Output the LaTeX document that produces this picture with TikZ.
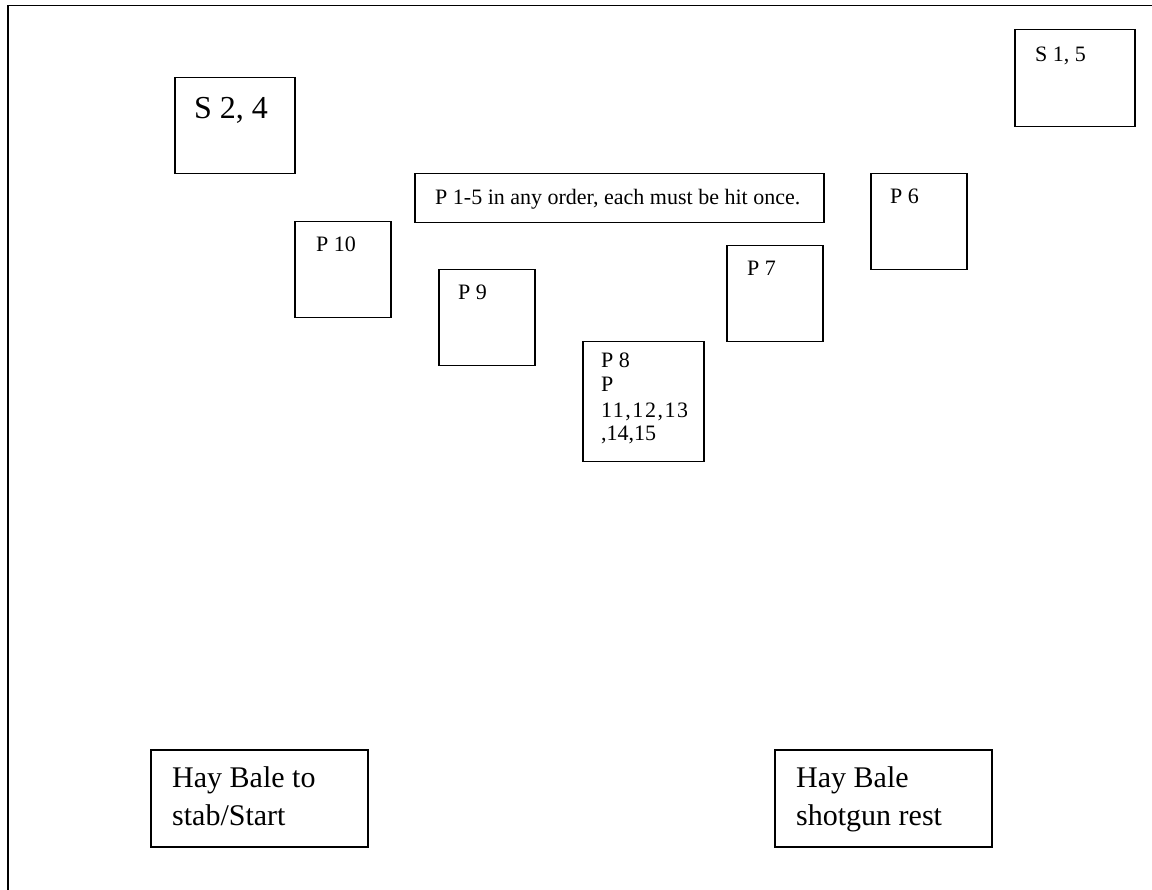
\documentclass[tikz,border=0pt]{standalone}
\usepackage{fontspec}
\setmainfont{Liberation Serif}
\begin{document}
\begin{tikzpicture}[x=1pt,y=-1pt,
  box/.style={draw, line width=1.5pt, rectangle, inner sep=0pt, anchor=north west},
  sm/.style={anchor=base west, inner sep=0pt, font=\fontsize{22}{24}\selectfont},
  big/.style={anchor=base west, inner sep=0pt, font=\fontsize{30}{37}\selectfont},
  huge/.style={anchor=base west, inner sep=0pt, font=\fontsize{32}{38}\selectfont},
]
\useasboundingbox (0,0) rectangle (1152,890);
\fill[white] (0,0) rectangle (1152,890);
\node[box, minimum width=1170pt, minimum height=910pt] (frame) at (7,5) {};

\node[box, minimum width=120pt, minimum height=96pt] (s24) at (174,77) {};
\node[huge] (s24t) at (194,119) {S 2, 4};

\node[box, minimum width=120pt, minimum height=97pt] (s15) at (1014,29) {};
\node[sm] (s15t) at (1035,62) {S 1, 5};

\node[box, minimum width=409pt, minimum height=49pt] (p15) at (414,173) {};
\node[sm] (p15t) at (435,205) {P 1-5 in any order, each must be hit once.};

\node[box, minimum width=96pt, minimum height=96pt] (p10) at (294,221) {};
\node[sm] (p10t) at (316,252) {P 10};

\node[box, minimum width=96pt, minimum height=96pt] (p9) at (438,269) {};
\node[sm] (p9t) at (458,300) {P 9};

\node[box, minimum width=96pt, minimum height=96pt] (p7) at (726,245) {};
\node[sm] (p7t) at (747,276) {P 7};

\node[box, minimum width=96pt, minimum height=96pt] (p6) at (870,173) {};
\node[sm] (p6t) at (890,204) {P 6};

\node[box, minimum width=121pt, minimum height=120pt] (p8) at (582,341) {};
\node[sm] (p8a) at (601,368) {P 8};
\node[sm] (p8b) at (601,392) {P};
\begin{scope}
  \clip (582,341) rectangle (686,461);
  \node[sm] (p8c) at (601,418) {\addfontfeature{LetterSpace=7}11,12,13};
\end{scope}
\node[sm] (p8d) at (601,441) {,14,15};

\node[box, minimum width=217pt, minimum height=97pt] (hay1) at (150,749) {};
\node[big] (hay1a) at (172,787) {Hay Bale to};
\node[big] (hay1b) at (172,825) {stab/Start};

\node[box, minimum width=217pt, minimum height=97pt] (hay2) at (774,749) {};
\node[big] (hay2a) at (796,787) {Hay Bale};
\node[big] (hay2b) at (796,825) {shotgun rest};
\end{tikzpicture}
\end{document}
